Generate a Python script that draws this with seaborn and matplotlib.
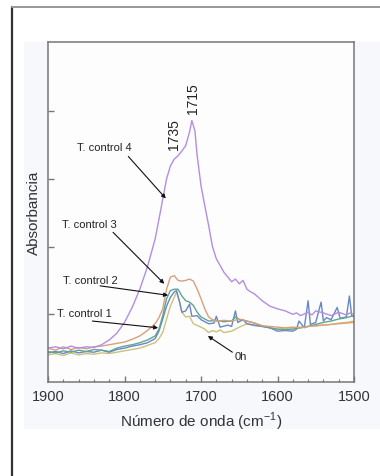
import numpy as np
import pandas as pd
import seaborn as sns
import matplotlib.pyplot as plt
from matplotlib.patches import Rectangle
from matplotlib.lines import Line2D
from matplotlib.ticker import MultipleLocator

# wavenumbers (cm-1) and absorbance
x4 = [1900, 1890, 1880, 1870, 1860, 1850, 1840, 1830, 1820, 1810, 1800, 1790, 1780, 1770, 1760, 1755,
      1750, 1745, 1740, 1735, 1730, 1725, 1720, 1715, 1712, 1708, 1705, 1700, 1695, 1690, 1685, 1680,
      1675, 1670, 1665, 1660, 1655, 1650, 1645, 1640, 1635, 1630, 1620, 1610, 1600, 1590, 1580, 1575,
      1570, 1560, 1555, 1550, 1540, 1530, 1520, 1510, 1505, 1500]
y4 = [0.50, 0.52, 0.49, 0.53, 0.50, 0.52, 0.51, 0.55, 0.62, 0.72, 0.88, 1.10, 1.37, 1.70, 2.11, 2.40,
      2.70, 3.00, 3.19, 3.29, 3.34, 3.41, 3.49, 3.69, 3.86, 3.71, 3.34, 2.90, 2.60, 2.31, 2.00, 1.82,
      1.72, 1.62, 1.55, 1.48, 1.52, 1.45, 1.50, 1.37, 1.33, 1.30, 1.20, 1.12, 1.08, 1.05, 1.00, 1.02,
      0.98, 1.03, 0.99, 1.05, 1.02, 0.98, 1.03, 0.99, 1.02, 1.00]

x3 = [1900, 1890, 1880, 1870, 1860, 1850, 1840, 1830, 1820, 1810, 1800, 1790, 1780, 1770, 1760, 1755,
      1750, 1745, 1740, 1735, 1730, 1725, 1720, 1715, 1710, 1705, 1700, 1695, 1690, 1685, 1680, 1670,
      1660, 1650, 1640, 1630, 1620, 1610, 1600, 1590, 1580, 1570, 1560, 1550, 1540, 1530, 1520, 1510, 1500]
y3 = [0.50, 0.47, 0.52, 0.48, 0.51, 0.49, 0.52, 0.53, 0.55, 0.57, 0.59, 0.63, 0.68, 0.76, 0.86, 0.95,
      1.08, 1.37, 1.55, 1.57, 1.50, 1.49, 1.50, 1.52, 1.49, 1.37, 1.23, 1.08, 0.96, 0.92, 0.90, 0.91,
      0.90, 0.93, 0.90, 0.87, 0.83, 0.82, 0.81, 0.80, 0.81, 0.80, 0.82, 0.83, 0.84, 0.85, 0.86, 0.87, 0.88]

x2 = [1900, 1890, 1880, 1870, 1860, 1850, 1840, 1830, 1820, 1810, 1800, 1790, 1780, 1770, 1760, 1755,
      1750, 1745, 1740, 1735, 1730, 1725, 1720, 1715, 1710, 1705, 1700, 1695, 1690, 1680, 1670, 1660,
      1655, 1650, 1640, 1630, 1620, 1610, 1600, 1590, 1580, 1570, 1560, 1550, 1540, 1530, 1520, 1510, 1500]
y2 = [0.45, 0.43, 0.46, 0.44, 0.47, 0.45, 0.48, 0.47, 0.45, 0.50, 0.53, 0.55, 0.58, 0.62, 0.68, 0.78,
      0.98, 1.23, 1.35, 1.37, 1.37, 1.27, 1.20, 1.18, 1.13, 1.03, 0.96, 0.93, 0.90, 0.91, 0.89, 0.90,
      0.96, 0.92, 0.90, 0.87, 0.83, 0.80, 0.78, 0.77, 0.78, 0.80, 0.82, 0.85, 0.88, 0.90, 0.93, 0.95, 0.98]

x1 = [1900, 1890, 1880, 1870, 1860, 1850, 1840, 1830, 1820, 1810, 1800, 1790, 1780, 1770, 1760, 1755,
      1750, 1745, 1740, 1735, 1732, 1728, 1725, 1720, 1715, 1712, 1705, 1700, 1690, 1683, 1680, 1675,
      1665, 1660, 1655, 1652, 1645, 1640, 1630, 1620, 1610, 1600, 1590, 1580, 1575, 1572, 1565, 1560,
      1557, 1550, 1543, 1540, 1536, 1530, 1522, 1518, 1510, 1506, 1503, 1500]
y1 = [0.43, 0.45, 0.42, 0.46, 0.43, 0.45, 0.44, 0.47, 0.44, 0.48, 0.50, 0.53, 0.55, 0.58, 0.64, 0.75,
      0.93, 1.12, 1.25, 1.33, 1.35, 1.18, 1.03, 1.05, 1.15, 0.97, 0.98, 0.92, 0.86, 0.87, 0.97, 0.81,
      0.84, 0.82, 1.05, 0.88, 0.92, 0.86, 0.84, 0.82, 0.80, 0.75, 0.76, 0.75, 0.78, 0.90, 0.80, 1.20,
      0.85, 0.88, 1.18, 0.90, 0.95, 0.92, 1.10, 0.94, 0.96, 1.27, 0.98, 0.96]

x0 = [1900, 1890, 1880, 1870, 1860, 1850, 1840, 1830, 1820, 1810, 1800, 1790, 1780, 1770, 1760, 1755,
      1750, 1745, 1740, 1735, 1732, 1728, 1725, 1720, 1715, 1710, 1700, 1695, 1690, 1685, 1680, 1675,
      1670, 1660, 1650, 1640, 1630, 1620, 1610, 1600, 1590, 1580, 1570, 1560, 1550, 1540, 1530, 1520,
      1510, 1500]
y0 = [0.40, 0.42, 0.39, 0.43, 0.40, 0.42, 0.41, 0.43, 0.42, 0.44, 0.46, 0.48, 0.50, 0.54, 0.58, 0.64,
      0.73, 0.93, 1.12, 1.25, 1.33, 1.18, 1.03, 0.96, 0.97, 0.86, 0.81, 0.78, 0.73, 0.76, 0.74, 0.77,
      0.73, 0.75, 0.81, 0.86, 0.83, 0.82, 0.80, 0.78, 0.79, 0.80, 0.81, 0.82, 0.83, 0.84, 0.85, 0.87,
      0.88, 0.90]

series = ['0h', 'T. control 1', 'T. control 2', 'T. control 3', 'T. control 4']
colors = ['#cbc27c', '#6a86c4', '#5ea593', '#d9a07c', '#b38de3']

frames = []
for name, xs, ys in zip(series, [x0, x1, x2, x3, x4], [y0, y1, y2, y3, y4]):
    frames.append(pd.DataFrame({'onda': xs, 'abs': ys, 'muestra': name}))
data = pd.concat(frames, ignore_index=True)

sns.set_style('ticks')
plt.rcParams['font.family'] = ['Liberation Sans', 'DejaVu Sans']

fig = plt.figure(figsize=(3.8, 4.77), dpi=100)
fig.patches.append(Rectangle((24 / 380, 47 / 477), 1, 387 / 477, transform=fig.transFigure,
                             facecolor='#f7f8fc', edgecolor='none', zorder=-5))
fig.lines.append(Line2D([12 / 380, 12 / 380], [0, 1 - 8 / 477], transform=fig.transFigure,
                        color='#333333', lw=1.6))
fig.lines.append(Line2D([12 / 380, 1], [1 - 8 / 477, 1 - 8 / 477], transform=fig.transFigure,
                        color='#999999', lw=1.4))

ax = fig.add_axes([48 / 380, 94 / 477, 306 / 380, 340 / 477])
ax.set_facecolor('#fdfdfe')

sns.lineplot(data=data, x='onda', y='abs', hue='muestra', palette=dict(zip(series, colors)),
             sort=False, estimator=None, lw=1.0, legend=False, ax=ax)

ax.set_xlim(1900, 1500)
ax.set_ylim(0, 5.02)
ax.set_xticks([1900, 1800, 1700, 1600, 1500])
ax.xaxis.set_minor_locator(MultipleLocator(20))
ax.set_yticks([1, 2, 3, 4])
ax.set_yticklabels([])
ax.tick_params(direction='in', which='both', color='#777777', labelsize=10.5, labelcolor='#333333')
ax.tick_params(which='major', length=4, width=1)
ax.tick_params(which='minor', length=2.5, width=0.8)
ax.tick_params(axis='x', pad=5)
for sp in ax.spines.values():
    sp.set_color('#777777')
    sp.set_linewidth(1.1)

ax.set_xlabel('Número de onda (cm$^{\\mathregular{-1}}$)', fontsize=11, color='#333333', labelpad=5)
ax.set_ylabel('Absorbancia', fontsize=11, color='#333333', labelpad=1.5)

arrow = dict(arrowstyle='-|>', color='#111111', lw=0.8, mutation_scale=6, shrinkA=0, shrinkB=0)
labels = [
    ('T. control 4', 1862, 3.47, (1795, 3.33), (1746, 2.71)),
    ('T. control 3', 1882, 2.33, (1815, 2.21), (1748, 1.45)),
    ('T. control 2', 1880, 1.50, (1832, 1.42), (1743, 1.28)),
    ('T. control 1', 1888, 1.02, (1842, 0.90), (1756, 0.80)),
    ('0h', 1656, 0.38, (1659, 0.44), (1691, 0.68)),
]
for txt, tx, ty, tail, tip in labels:
    ax.text(tx, ty, txt, fontsize=8, ha='left', va='center', color='#222222')
    ax.annotate('', xy=tip, xytext=tail, arrowprops=arrow)

ax.text(1735, 3.67, '1735', rotation=90, fontsize=10, ha='center', va='center', color='#222222')
ax.text(1710, 4.20, '1715', rotation=90, fontsize=10, ha='center', va='center', color='#222222')

plt.savefig('out.png', dpi=100)
